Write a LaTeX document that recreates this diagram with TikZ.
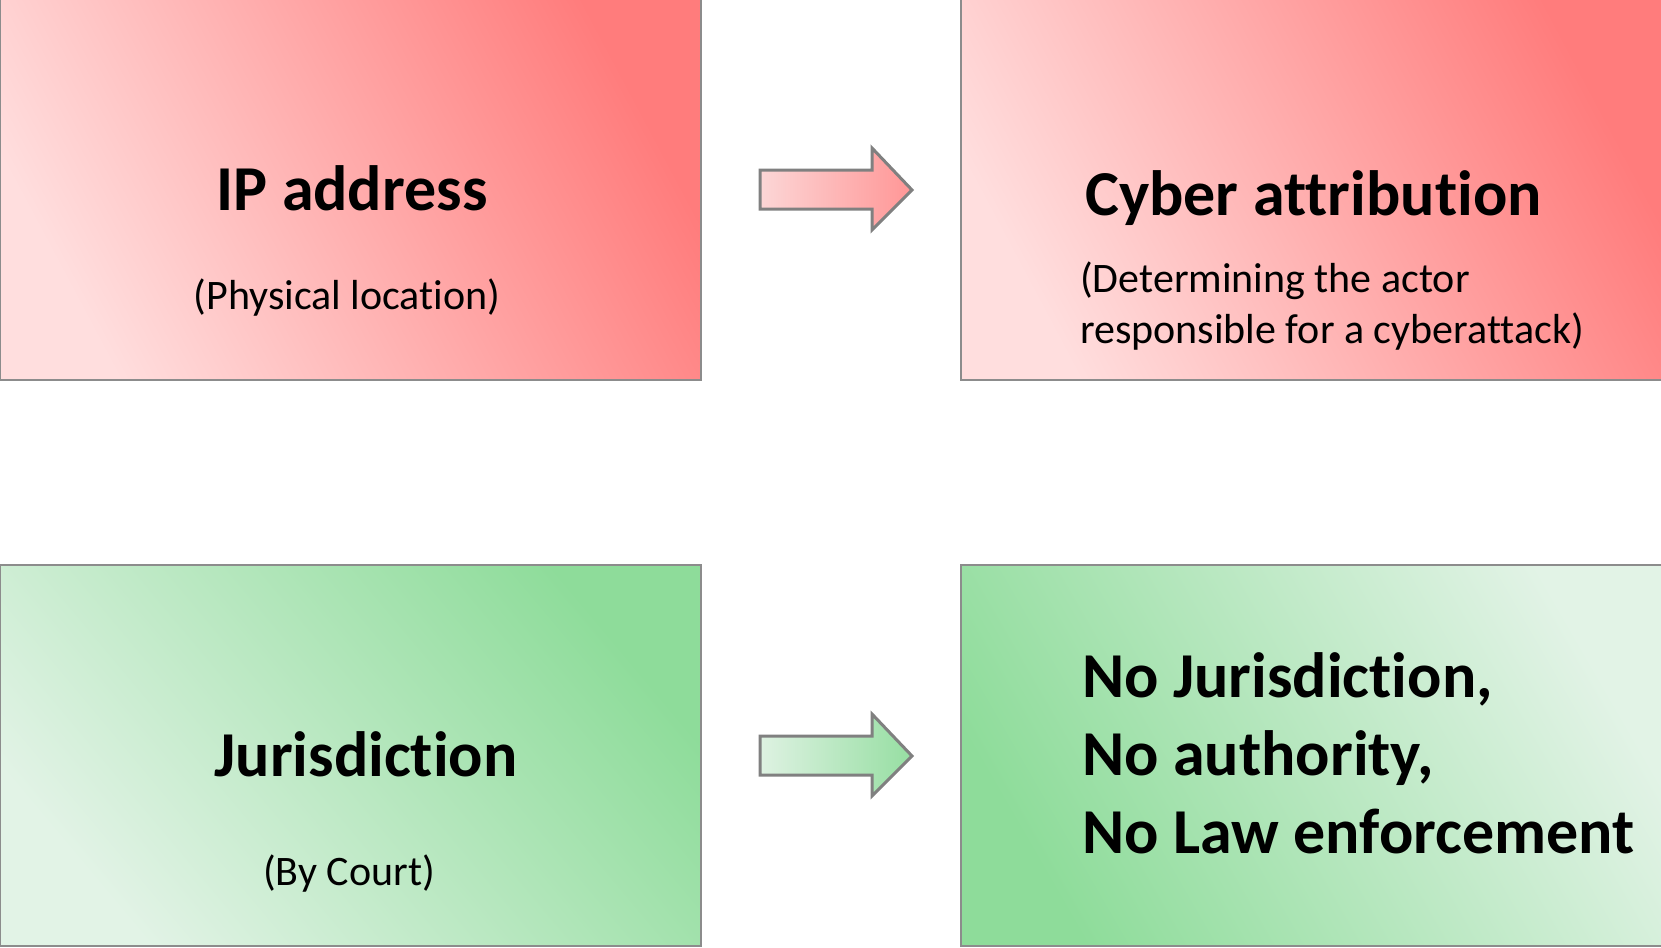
\documentclass[tikz,border=0pt]{standalone}
\usepackage{fontspec}
\setmainfont{Carlito}[Ligatures=NoCommon]
\definecolor{redLight}{RGB}{255,222,222}
\definecolor{redDark}{RGB}{255,124,124}
\definecolor{greenLight}{RGB}{226,243,230}
\definecolor{greenDark}{RGB}{142,220,154}
\definecolor{arrowRedL}{RGB}{252,214,214}
\definecolor{arrowRedR}{RGB}{255,150,150}
\definecolor{arrowGreenL}{RGB}{222,242,226}
\definecolor{arrowGreenR}{RGB}{150,222,162}
\definecolor{edge}{RGB}{140,140,140}
\definecolor{arrowEdge}{RGB}{128,128,128}
\tikzset{
  panel/.style={draw=edge, line width=2pt, inner sep=0pt, minimum width=701pt, minimum height=381pt},
  title/.style={font=\fontsize{64}{78}\selectfont\bfseries, inner sep=0pt, anchor=base},
  subtitle/.style={font=\fontsize{42}{51}\selectfont, inner sep=0pt, anchor=base},
  blockarrow/.style={draw=arrowEdge, line width=3pt, line join=miter}
}
\begin{document}
\begin{tikzpicture}[x=1pt,y=-1pt]
\useasboundingbox (0,0) rectangle (1661,947);

% the four panels
\node[panel, left color=redLight, right color=redDark, shading angle=118] (ip) at (350.5,189.5) {};
\node[panel, left color=redLight, right color=redDark, shading angle=118] (attr) at (1311,189.5) {};
\node[panel, left color=greenLight, right color=greenDark, shading angle=130] (jur) at (350.5,755.5) {};
\node[panel, left color=greenDark, right color=greenLight, shading angle=120] (nojur) at (1311,755.5) {};

% panel texts (multi-line nodes sit on the baseline of their last line)
\node[title] (ipT) at (352,210) {IP address};
\node[subtitle] (ipS) at (347,309) {(Physical location)};
\node[title, anchor=base west] (attrT) at (1085,215) {Cyber attribution};
\node[subtitle, anchor=base west, align=left] (attrS) at (1080,343) {(Determining the actor\\responsible for a cyberattack)};
\node[title] (jurT) at (366,776) {Jurisdiction};
\node[subtitle] (jurS) at (349,885) {(By Court)};
\node[title, anchor=base west, align=left] (nojurT) at (1082,853) {No Jurisdiction,\\No authority,\\No Law enforcement};

% block arrows between the panels
\shade[blockarrow, left color=arrowRedL, right color=arrowRedR]
  (760,170) -- (872,170) -- (872,148) -- (912,190) -- (872,230) -- (872,209) -- (760,209) -- cycle;
\shade[blockarrow, left color=arrowGreenL, right color=arrowGreenR]
  (760,736) -- (872,736) -- (872,714) -- (912,756) -- (872,796) -- (872,775) -- (760,775) -- cycle;
\end{tikzpicture}
\end{document}
